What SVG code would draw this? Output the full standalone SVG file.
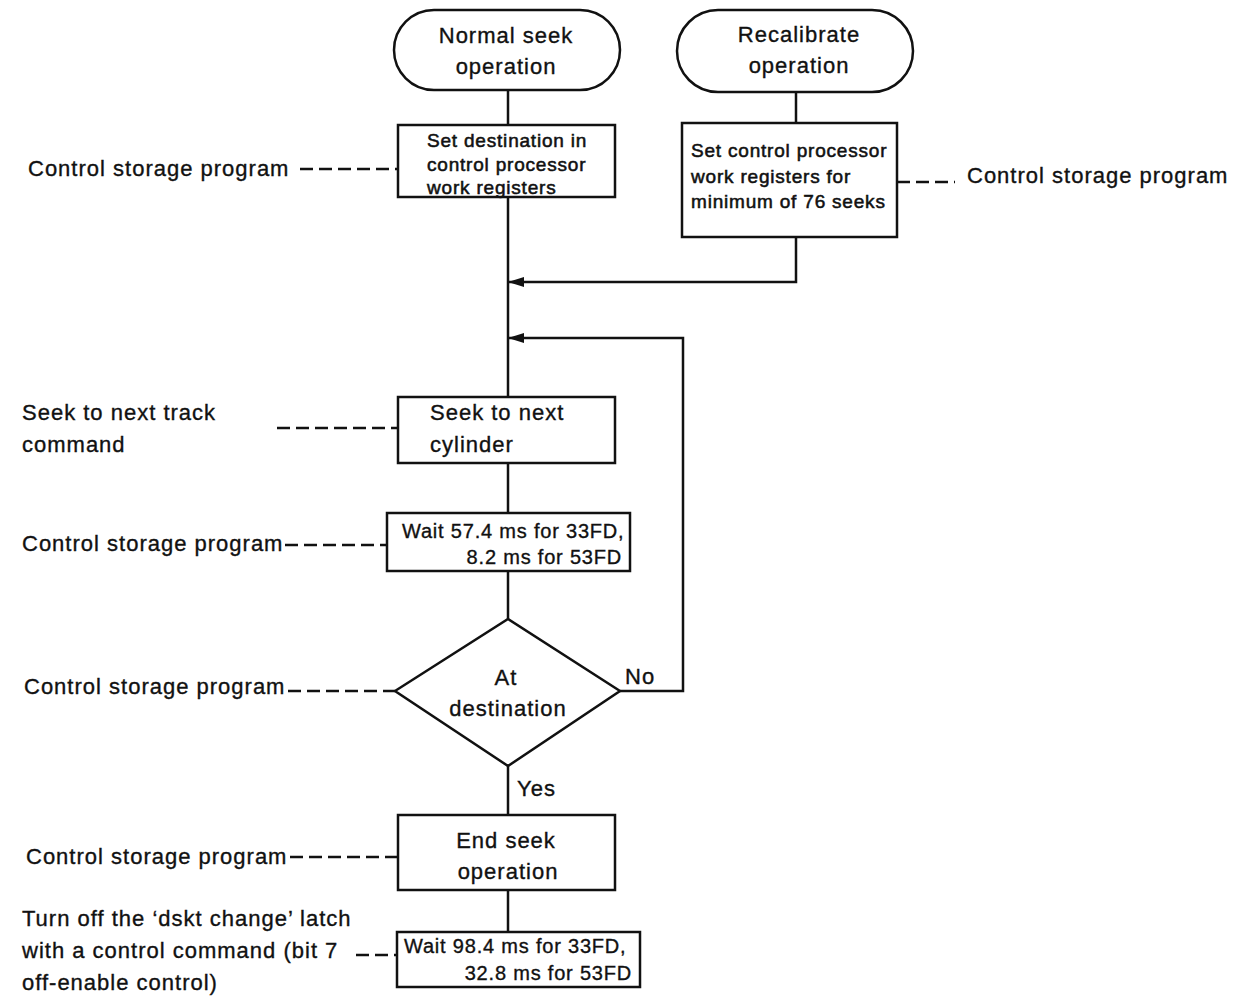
<svg xmlns="http://www.w3.org/2000/svg" width="1234" height="997" viewBox="0 0 1234 997">
<style>
.shape{fill:#fff;stroke:#111;stroke-width:2.5}
.line{fill:none;stroke:#111;stroke-width:2.5}
.dash{fill:none;stroke:#111;stroke-width:2.3;stroke-dasharray:13 6}
.t{font-family:"Liberation Sans",Arial,sans-serif;font-size:22px;letter-spacing:1px;fill:#111;stroke:#111;stroke-width:0.35}
.s{font-family:"Liberation Sans",Arial,sans-serif;font-size:19px;letter-spacing:0.8px;fill:#111;stroke:#111;stroke-width:0.55}
.w{font-family:"Liberation Sans",Arial,sans-serif;font-size:20px;letter-spacing:0.8px;fill:#111;stroke:#111;stroke-width:0.35}
.c{text-anchor:middle}
.e{text-anchor:end}
</style>
<defs>
<marker id="arr" markerWidth="16" markerHeight="10" refX="15" refY="5" orient="auto" markerUnits="userSpaceOnUse">
<path d="M0,0 L16,5 L0,10 Z" fill="#111"/>
</marker>
</defs>
<rect width="1234" height="997" fill="#fff"/>
<g id="connectors">
<path class="line" d="M508,90 V125"/>
<path class="line" d="M508,197 V397"/>
<path class="line" d="M796,92 V123"/>
<path class="line" d="M796,237 V282 H509" marker-end="url(#arr)"/>
<path class="line" d="M620,691 H683 V338 H509" marker-end="url(#arr)"/>
<path class="line" d="M508,463 V513"/>
<path class="line" d="M508,571 V619"/>
<path class="line" d="M508,766 V815"/>
<path class="line" d="M508,890 V932"/>
<path class="dash" d="M300,169 H398"/>
<path class="dash" d="M897,182 H955"/>
<path class="dash" d="M277,428 H398"/>
<path class="dash" d="M285,545 H387"/>
<path class="dash" d="M288,691 H395"/>
<path class="dash" d="M290,857 H398"/>
<path class="dash" d="M356,955 H397"/>
</g>
<g id="start-normal">
<rect class="shape" x="394" y="10" width="226" height="80" rx="40" ry="40"/>
<text class="t c" x="506" y="43">Normal seek</text>
<text class="t c" x="506" y="74">operation</text>
</g>
<g id="start-recal">
<rect class="shape" x="677" y="10" width="236" height="82" rx="41" ry="41"/>
<text class="t c" x="799" y="42">Recalibrate</text>
<text class="t c" x="799" y="73">operation</text>
</g>
<g id="set-dest">
<rect class="shape" x="398" y="125" width="217" height="72"/>
<text class="s" x="427" y="147">Set destination in</text>
<text class="s" x="427" y="171">control processor</text>
<text class="s" x="427" y="194">work registers</text>
</g>
<g id="set-recal">
<rect class="shape" x="682" y="123" width="215" height="114"/>
<text class="s" x="691" y="157">Set control processor</text>
<text class="s" x="691" y="183">work registers for</text>
<text class="s" x="691" y="208">minimum of 76 seeks</text>
</g>
<g id="seek">
<rect class="shape" x="398" y="397" width="217" height="66"/>
<text class="t" x="430" y="420">Seek to next</text>
<text class="t" x="430" y="452">cylinder</text>
</g>
<g id="wait1">
<rect class="shape" x="387" y="513" width="243" height="58"/>
<text class="w" x="402" y="538">Wait 57.4 ms for 33FD,</text>
<text class="w e" x="622" y="564">8.2 ms for 53FD</text>
</g>
<g id="decision">
<polygon class="shape" points="395,691 508,619 620,691 508,766"/>
<text class="t c" x="506" y="685">At</text>
<text class="t c" x="508" y="716">destination</text>
<text class="t" x="625" y="684">No</text>
<text class="t" x="517" y="796">Yes</text>
</g>
<g id="end-seek">
<rect class="shape" x="398" y="815" width="217" height="75"/>
<text class="t c" x="506" y="848">End seek</text>
<text class="t c" x="508" y="879">operation</text>
</g>
<g id="wait2">
<rect class="shape" x="397" y="932" width="243" height="55"/>
<text class="w" x="404" y="953">Wait 98.4 ms for 33FD,</text>
<text class="w e" x="632" y="980">32.8 ms for 53FD</text>
</g>
<g id="labels">
<text class="t" x="28" y="176">Control storage program</text>
<text class="t" x="967" y="183">Control storage program</text>
<text class="t" x="22" y="420">Seek to next track</text>
<text class="t" x="22" y="452">command</text>
<text class="t" x="22" y="551">Control storage program</text>
<text class="t" x="24" y="694">Control storage program</text>
<text class="t" x="26" y="864">Control storage program</text>
<text class="t" x="22" y="926">Turn off the ‘dskt change’ latch</text>
<text class="t" x="22" y="958">with a control command (bit 7</text>
<text class="t" x="22" y="990">off-enable control)</text>
</g>
</svg>
